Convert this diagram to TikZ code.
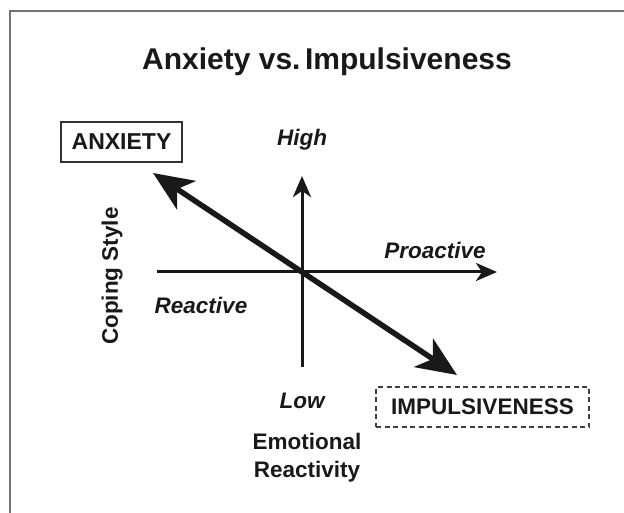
\documentclass[tikz,border=0pt]{standalone}
\usepackage{fontspec}
\setmainfont{Liberation Sans}
\usetikzlibrary{arrows.meta}
\tikzset{
  lbl/.style={font=\fontsize{22.5}{27}\selectfont\bfseries, inner sep=0pt, text=black!90},
  ilbl/.style={lbl, font=\fontsize{22.5}{27}\selectfont\bfseries\itshape},
  axis/.style={line width=3pt, draw=black!90, -{Stealth[length=21pt,width=18pt,inset=6pt]}},
  bigarrow/.style={line width=5.5pt, draw=black!90, {Stealth[length=40pt,width=34pt,inset=11pt]}-{Stealth[length=40pt,width=34pt,inset=11pt]}},
  frameline/.style={line width=2.5pt, draw=black!55},
}
\begin{document}
\begin{tikzpicture}[x=1pt,y=-1pt]
\useasboundingbox (0,0) rectangle (624,513);
\fill[white] (0,0) rectangle (624,513);
% frame
\draw[frameline] (10,513) -- (10,11) -- (624,11);
% title
\node[lbl, font=\fontsize{30}{36}\selectfont\bfseries] (title) at (327,62) {Anxiety vs.\hspace{0.15em}Impulsiveness};
% axes
\coordinate (O) at (302,272);
\coordinate (vtop) at (302,176);
\coordinate (vbot) at (302,367);
\coordinate (hleft) at (157,272);
\coordinate (hright) at (497,272);
\draw[axis] (vbot) -- (vtop);
\draw[axis] (hleft) -- (hright);
% diagonal
\coordinate (dtl) at (153,173);
\coordinate (dbr) at (457,375);
\draw[bigarrow] (dtl) -- (dbr);
% labels
\node[lbl, draw=black!80, line width=2pt, minimum width=121pt, minimum height=40pt, font=\fontsize{23}{27}\selectfont\bfseries] (anx) at (121.5,142) {ANXIETY};
\node[lbl, draw=black!75, line width=1.6pt, dash pattern=on 5pt off 3.5pt, minimum width=213pt, minimum height=40pt] (imp) at (482.5,407) {IMPULSIVENESS};
\node[ilbl] (high) at (302,140) {High};
\node[ilbl] (low) at (302,401) {Low};
\node[ilbl] (pro) at (435,250) {Proactive};
\node[ilbl] (rea) at (201,305) {Reactive};
\node[lbl, rotate=90] (cop) at (112,276) {Coping Style};
\node[lbl, align=center, font=\fontsize{22.5}{28}\selectfont\bfseries] (emo) at (307,458) {Emotional\\Reactivity};
\end{tikzpicture}
\end{document}
